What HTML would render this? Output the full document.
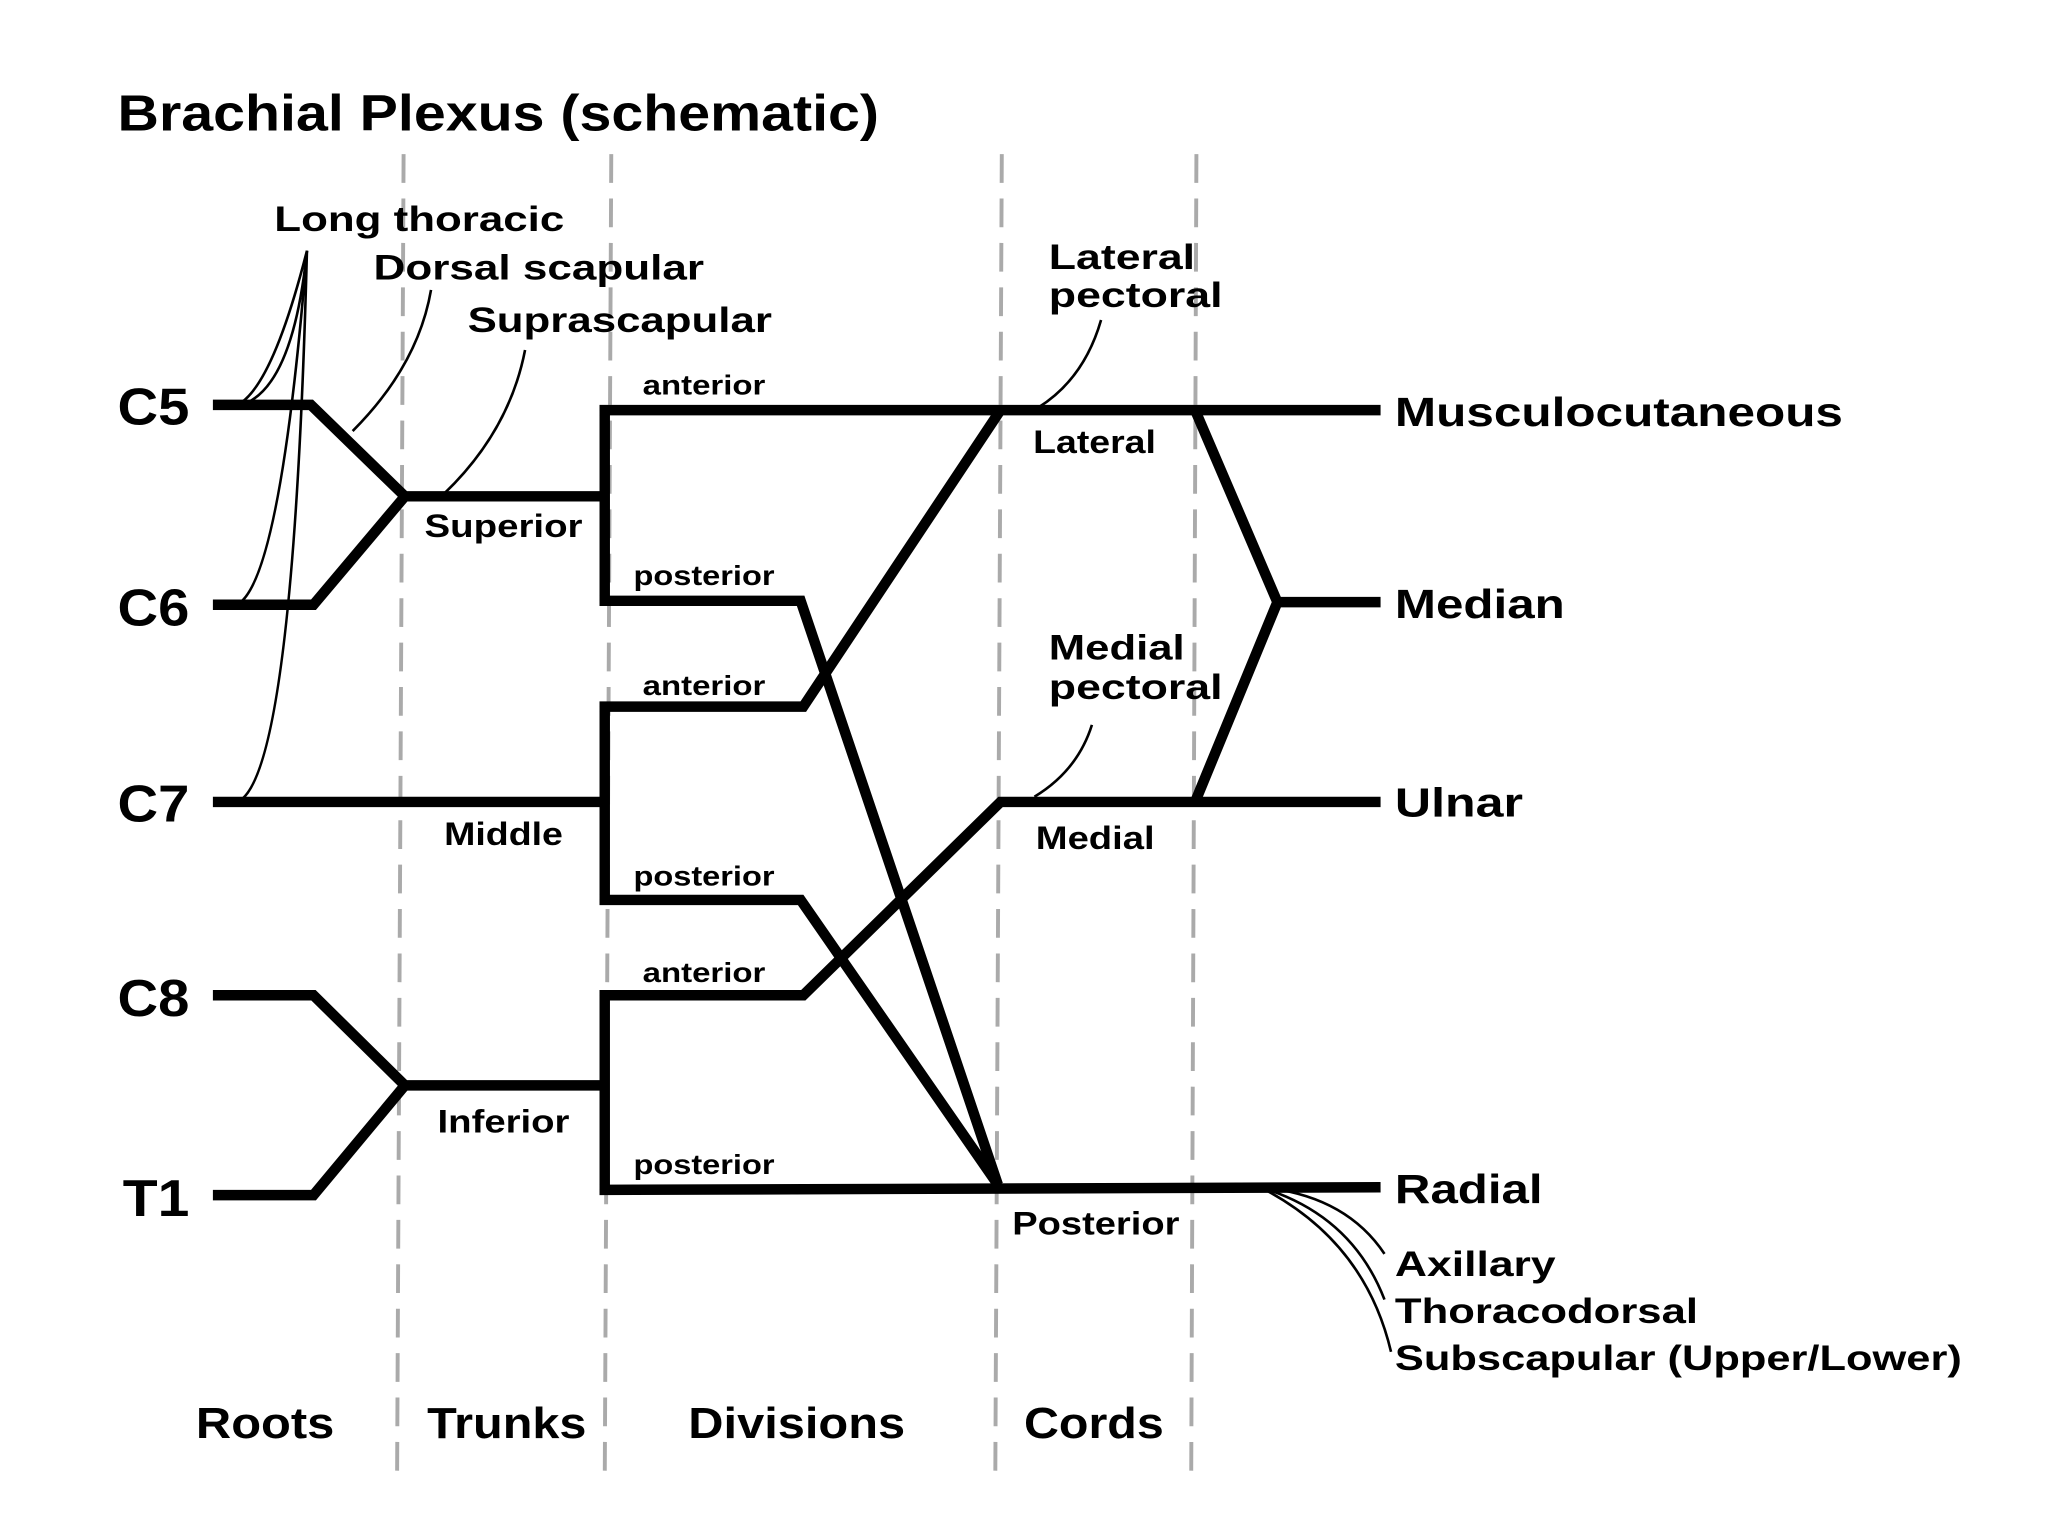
<!DOCTYPE html>
<html><head><style>html,body{margin:0;padding:0;background:#fff}svg{display:block}</style></head>
<body>
<svg width="2048" height="1536" viewBox="0 0 1568 1176" preserveAspectRatio="none" xmlns="http://www.w3.org/2000/svg" font-family="Liberation Sans, sans-serif" font-weight="bold">
<rect width="1568" height="1176" fill="#fff"/>
<g stroke="#aaa" stroke-width="3" stroke-dasharray="22 12">
<line x1="309" y1="118" x2="304" y2="1135"/>
<line x1="468" y1="118" x2="463" y2="1135"/>
<line x1="767" y1="118" x2="762" y2="1135"/>
<line x1="916" y1="118" x2="912" y2="1135"/>
</g>
<g fill="none" stroke="#000" stroke-width="8" stroke-linejoin="miter">
<polyline points="163,310 238,310 310,380 460,380"/>
<polyline points="163,463 240,463 310,380"/>
<polyline points="163,614 463,614"/>
<polyline points="163,762 240,762 310,831 463,831"/>
<polyline points="163,915 240,915 310,831"/>
<polyline points="1057,314 463,314 463,460 613,460 764,907"/>
<polyline points="766,314 615,541 463,541 463,689 613,689 764,907"/>
<polyline points="1057,614 766,614 615,762 463,762 463,911 1057,909"/>
<polyline points="915,314 978,461 915,614"/>
<line x1="978" y1="461" x2="1057" y2="461"/>
</g>
<g fill="none" stroke="#000" stroke-width="2">
<path d="M235,192 Q210,290 185,308"/>
<path d="M235,192 Q225,290 190,308"/>
<path d="M235,192 Q215,440 183,462"/>
<path d="M235,192 Q225,580 185,612"/>
<path d="M330,222 Q320,280 270,330"/>
<path d="M402,268 Q390,330 340,378"/>
<path d="M843,245 Q830,290 795,312"/>
<path d="M836,555 Q825,590 792,610"/>
<path d="M965,909 Q1030,915 1060,960"/>
<path d="M965,909 Q1035,930 1060,995"/>
<path d="M965,909 Q1045,950 1065,1035"/>
</g>
<g fill="#000" lengthAdjust="spacingAndGlyphs">
<text x="90" y="100" font-size="39" textLength="583" lengthAdjust="spacingAndGlyphs">Brachial Plexus (schematic)</text>
<text x="90" y="325" font-size="40" textLength="55" lengthAdjust="spacingAndGlyphs">C5</text>
<text x="90" y="479" font-size="40" textLength="55" lengthAdjust="spacingAndGlyphs">C6</text>
<text x="90" y="629" font-size="40" textLength="55" lengthAdjust="spacingAndGlyphs">C7</text>
<text x="90" y="778" font-size="40" textLength="55" lengthAdjust="spacingAndGlyphs">C8</text>
<text x="94" y="931" font-size="40" textLength="51" lengthAdjust="spacingAndGlyphs">T1</text>
<text x="210" y="177" font-size="27" textLength="222" lengthAdjust="spacingAndGlyphs">Long thoracic</text>
<text x="286" y="214" font-size="27" textLength="253" lengthAdjust="spacingAndGlyphs">Dorsal scapular</text>
<text x="358" y="254" font-size="27" textLength="233" lengthAdjust="spacingAndGlyphs">Suprascapular</text>
<text x="803" y="206" font-size="27" textLength="112" lengthAdjust="spacingAndGlyphs">Lateral</text>
<text x="803" y="235" font-size="27" textLength="133" lengthAdjust="spacingAndGlyphs">pectoral</text>
<text x="803" y="505" font-size="27" textLength="104" lengthAdjust="spacingAndGlyphs">Medial</text>
<text x="803" y="535" font-size="27" textLength="133" lengthAdjust="spacingAndGlyphs">pectoral</text>
<text x="1068" y="326" font-size="31" textLength="343" lengthAdjust="spacingAndGlyphs">Musculocutaneous</text>
<text x="1068" y="473" font-size="31" textLength="130" lengthAdjust="spacingAndGlyphs">Median</text>
<text x="1068" y="625" font-size="31" textLength="98" lengthAdjust="spacingAndGlyphs">Ulnar</text>
<text x="1068" y="921" font-size="31" textLength="113" lengthAdjust="spacingAndGlyphs">Radial</text>
<text x="1068" y="977" font-size="27" textLength="123" lengthAdjust="spacingAndGlyphs">Axillary</text>
<text x="1068" y="1013" font-size="27" textLength="232" lengthAdjust="spacingAndGlyphs">Thoracodorsal</text>
<text x="1068" y="1049" font-size="27" textLength="434" lengthAdjust="spacingAndGlyphs">Subscapular (Upper/Lower)</text>
<g font-size="21">
<text x="492" y="302" textLength="94" lengthAdjust="spacingAndGlyphs">anterior</text>
<text x="485" y="448" textLength="108" lengthAdjust="spacingAndGlyphs">posterior</text>
<text x="492" y="532" textLength="94" lengthAdjust="spacingAndGlyphs">anterior</text>
<text x="485" y="678" textLength="108" lengthAdjust="spacingAndGlyphs">posterior</text>
<text x="492" y="752" textLength="94" lengthAdjust="spacingAndGlyphs">anterior</text>
<text x="485" y="899" textLength="108" lengthAdjust="spacingAndGlyphs">posterior</text>
</g>
<g font-size="25">
<text x="325" y="411" textLength="121" lengthAdjust="spacingAndGlyphs">Superior</text>
<text x="340" y="647" textLength="91" lengthAdjust="spacingAndGlyphs">Middle</text>
<text x="335" y="867" textLength="101" lengthAdjust="spacingAndGlyphs">Inferior</text>
<text x="791" y="347" textLength="94" lengthAdjust="spacingAndGlyphs">Lateral</text>
<text x="793" y="650" textLength="91" lengthAdjust="spacingAndGlyphs">Medial</text>
<text x="775" y="945" textLength="128" lengthAdjust="spacingAndGlyphs">Posterior</text>
</g>
<g font-size="33">
<text x="150" y="1101" textLength="106" lengthAdjust="spacingAndGlyphs">Roots</text>
<text x="327" y="1101" textLength="122" lengthAdjust="spacingAndGlyphs">Trunks</text>
<text x="527" y="1101" textLength="166" lengthAdjust="spacingAndGlyphs">Divisions</text>
<text x="784" y="1101" textLength="107" lengthAdjust="spacingAndGlyphs">Cords</text>
</g>
</g>
</svg>
</body></html>
